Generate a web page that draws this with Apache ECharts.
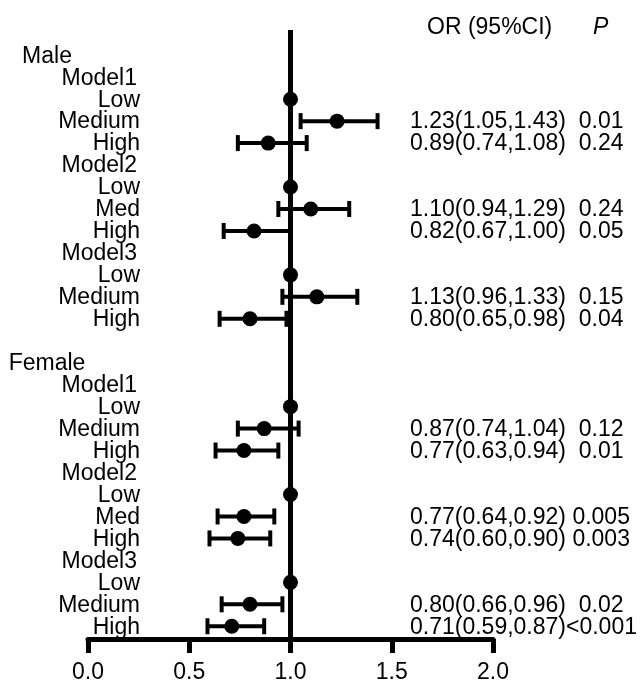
<!DOCTYPE html>
<html>
<head>
<meta charset="utf-8">
<script src="https://cdn.jsdelivr.net/npm/echarts@6/dist/echarts.min.js"></script>
<style>html,body{margin:0;padding:0;background:#fff}#c{width:640px;height:684px}</style>
</head>
<body>
<div id="c"></div>
<script>
// ---- data ----
var groups = ["Male", "Female"];
var models = ["Model1", "Model2", "Model3"];
var maleLevels = ["Low", "Medium", "High", "Low", "Med", "High", "Low", "Medium", "High"];
var femaleLevels = ["Low", "Medium", "High", "Low", "Med", "High", "Low", "Medium", "High"];
var maleOR = [1, 1.23, 0.89, 1, 1.10, 0.82, 1, 1.13, 0.80];
var maleLo = [null, 1.05, 0.74, null, 0.94, 0.67, null, 0.96, 0.65];
var maleHi = [null, 1.43, 1.08, null, 1.29, 1.00, null, 1.33, 0.98];
var maleP = [null, "0.01", "0.24", null, "0.24", "0.05", null, "0.15", "0.04"];
var femaleOR = [1, 0.87, 0.77, 1, 0.77, 0.74, 1, 0.80, 0.71];
var femaleLo = [null, 0.74, 0.63, null, 0.64, 0.60, null, 0.66, 0.59];
var femaleHi = [null, 1.04, 0.94, null, 0.92, 0.90, null, 0.96, 0.87];
var femaleP = [null, "0.12", "0.01", null, "0.005", "0.003", null, "0.02", "<0.001"];
var xTicks = [0, 0.5, 1.0, 1.5, 2.0];
var headerOR = "OR (95%CI)";
var headerP = "P";

// ---- build rows ----
var FONT = "Liberation Sans, Arial, sans-serif";
var FS = 23;
var labelRows = [];   // {row, text, kind}
var ciRows = [];      // {row, or, lo, hi, txt}
var row = 0;
var sets = [
  {levels: maleLevels, or: maleOR, lo: maleLo, hi: maleHi, p: maleP},
  {levels: femaleLevels, or: femaleOR, lo: femaleLo, hi: femaleHi, p: femaleP}
];
function f2(v){ return v.toFixed(2); }
groups.forEach(function(g, gi){
  var s = sets[gi];
  labelRows.push({row: row, text: g, kind: "group"}); row++;
  models.forEach(function(m, mi){
    labelRows.push({row: row, text: m, kind: "model"}); row++;
    for (var k = 0; k < 3; k++) {
      var idx = mi * 3 + k;
      labelRows.push({row: row, text: s.levels[idx], kind: "level"});
      var txt = null;
      if (s.lo[idx] != null) {
        var p = s.p[idx];
        var sep = p.charAt(0) === "<" ? "" : (p.length >= 5 ? " " : "  ");
        txt = f2(s.or[idx]) + "(" + f2(s.lo[idx]) + "," + f2(s.hi[idx]) + ")" + sep + p;
      }
      ciRows.push({row: row, or: s.or[idx], lo: s.lo[idx], hi: s.hi[idx], txt: txt});
      row++;
    }
  });
  row++; // blank line between groups
});

var chart = echarts.init(document.getElementById("c"), null, {renderer: "canvas"});
var option = {
  backgroundColor: "#fff",
  animation: false,
  grid: {left: 88, right: 147, top: 30, bottom: 44},
  xAxis: {
    type: "value", min: 0, max: 2, interval: 0.5, position: "bottom",
    axisLine: {show: true, onZero: false, lineStyle: {color: "#000", width: 5}},
    axisTick: {show: true, length: 14, lineStyle: {color: "#000", width: 5}},
    axisLabel: {color: "#000", fontSize: FS, fontFamily: FONT, margin: 22,
      formatter: function(v){ return v.toFixed(1); }},
    splitLine: {show: false}
  },
  yAxis: {type: "value", inverse: true, min: -1.15, max: 26.58, show: false},
  graphic: [
    {type: "text", left: 427, top: 16, style: {text: headerOR, font: FS + "px " + FONT, fill: "#000"}},
    {type: "text", left: 593, top: 16, style: {text: headerP, font: "italic " + FS + "px " + FONT, fill: "#000"}}
  ],
  series: [
    {
      type: "custom",
      clip: false,
      data: ciRows.map(function(r){ return [r.or, r.row]; }),
      encode: {x: 0, y: 1},
      renderItem: function(params, api){
        var r = ciRows[params.dataIndex];
        var c = api.coord([r.or, r.row]);
        var ch = [];
        if (r.lo != null) {
          var a = api.coord([r.lo, r.row]), b = api.coord([r.hi, r.row]);
          var ls = {stroke: "#000", lineWidth: 4};
          ch.push({type: "line", shape: {x1: a[0], y1: a[1], x2: b[0], y2: b[1]}, style: ls});
          ch.push({type: "line", shape: {x1: a[0], y1: a[1] - 8, x2: a[0], y2: a[1] + 8}, style: ls});
          ch.push({type: "line", shape: {x1: b[0], y1: b[1] - 8, x2: b[0], y2: b[1] + 8}, style: ls});
        }
        ch.push({type: "circle", shape: {cx: c[0], cy: c[1], r: 7.5}, style: {fill: "#000"}});
        if (r.txt) {
          var t = api.coord([2, r.row]);
          ch.push({type: "text", x: t[0] - 83, y: t[1] + 1,
            style: {text: r.txt, font: FS + "px " + FONT, fill: "#000", align: "left", verticalAlign: "middle"}});
        }
        return {type: "group", children: ch};
      },
      markLine: {
        silent: true, symbol: "none", label: {show: false},
        lineStyle: {color: "#000", width: 5, type: "solid"},
        data: [{xAxis: 1}]
      },
      z: 3
    },
    {
      type: "custom",
      clip: false,
      data: labelRows.map(function(r){ return [0, r.row]; }),
      encode: {x: 0, y: 1},
      renderItem: function(params, api){
        var r = labelRows[params.dataIndex];
        var p = api.coord([0, r.row]);
        var x, align;
        if (r.kind === "group") { x = p[0] - 41; align = "center"; }
        else if (r.kind === "model") { x = p[0] + 49; align = "right"; }
        else { x = p[0] + 52; align = "right"; }
        return {type: "text", x: x, y: p[1] + 1,
          style: {text: r.text, font: FS + "px " + FONT, fill: "#000", align: align, verticalAlign: "middle"}};
      },
      z: 4
    }
  ]
};
chart.setOption(option);
</script>
</body>
</html>
